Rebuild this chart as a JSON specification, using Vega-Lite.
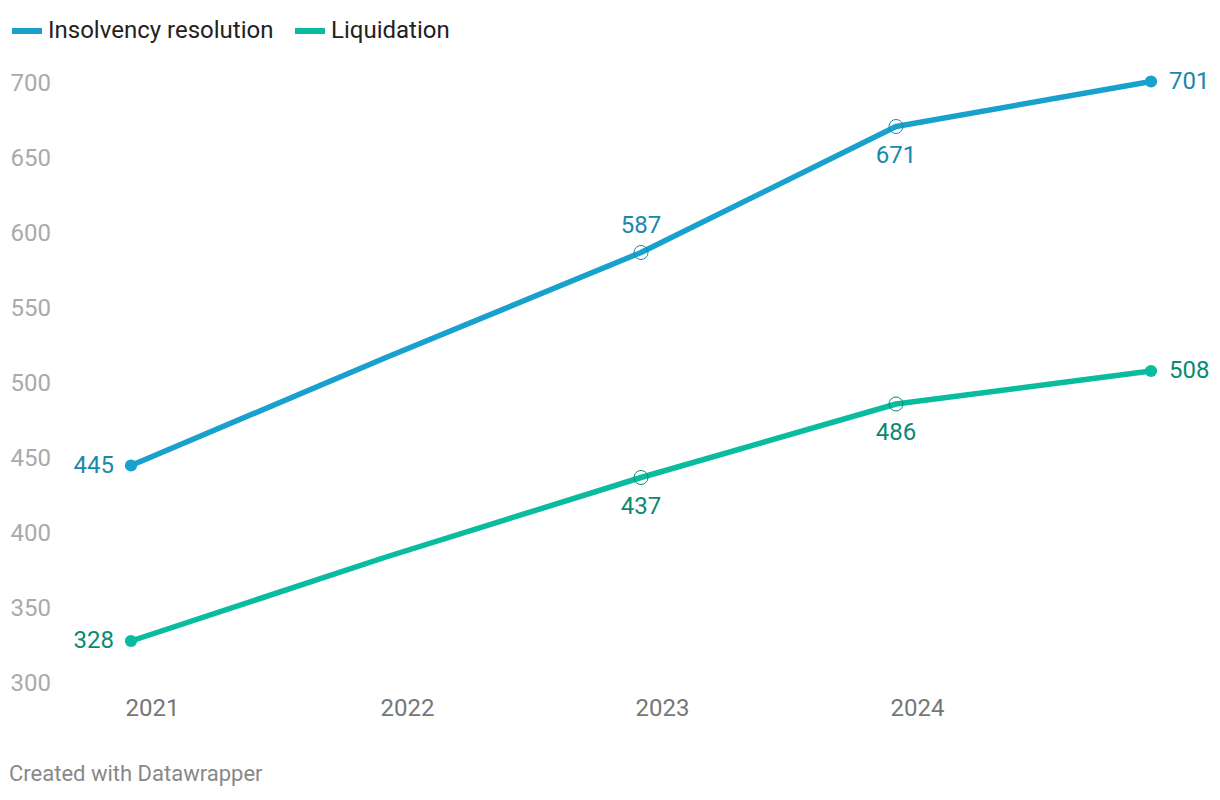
{
  "$schema": "https://vega.github.io/schema/vega-lite/v6.json",
  "width": 1020,
  "height": 600,
  "autosize": {"type": "none"},
  "padding": {"left": 131, "top": 83, "right": 69, "bottom": 117},
  "background": "white",
  "config": {
    "view": {"stroke": null},
    "font": "Roboto"
  },
  "title": {
    "text": "Created with Datawrapper",
    "orient": "bottom",
    "anchor": "start",
    "frame": "bounds",
    "offset": 44,
    "fontSize": 22,
    "fontWeight": "normal",
    "color": "#888888",
    "font": "Roboto"
  },
  "data": {
    "values": [
      {"year": 2021, "series": "Insolvency resolution", "value": 445},
      {"year": 2022, "series": "Insolvency resolution", "value": 517},
      {"year": 2023, "series": "Insolvency resolution", "value": 587},
      {"year": 2024, "series": "Insolvency resolution", "value": 671},
      {"year": 2025, "series": "Insolvency resolution", "value": 701},
      {"year": 2021, "series": "Liquidation", "value": 328},
      {"year": 2022, "series": "Liquidation", "value": 384},
      {"year": 2023, "series": "Liquidation", "value": 437},
      {"year": 2024, "series": "Liquidation", "value": 486},
      {"year": 2025, "series": "Liquidation", "value": 508}
    ]
  },
  "encoding": {
    "x": {
      "field": "year",
      "type": "quantitative",
      "scale": {"domain": [2021, 2025], "nice": false, "zero": false},
      "axis": {
        "title": null,
        "values": [2021, 2022, 2023, 2024],
        "format": "d",
        "grid": false,
        "domain": false,
        "ticks": false,
        "tickSize": 0,
        "labelPadding": 13,
        "labelAlign": "left",
        "labelOffset": -6,
        "labelFontSize": 24,
        "labelColor": "#777777",
        "labelFont": "Roboto"
      }
    },
    "y": {
      "field": "value",
      "type": "quantitative",
      "scale": {"domain": [300, 700], "nice": false, "zero": false},
      "axis": {
        "title": null,
        "values": [300, 350, 400, 450, 500, 550, 600, 650, 700],
        "grid": false,
        "domain": false,
        "ticks": false,
        "tickSize": 0,
        "labelAlign": "left",
        "labelBaseline": "middle",
        "labelPadding": 121,
        "labelFontSize": 24,
        "labelColor": "#aaaaaa",
        "labelFont": "Roboto"
      }
    }
  },
  "layer": [
    {
      "mark": {"type": "line", "strokeWidth": 5.5, "strokeCap": "round", "strokeJoin": "round"},
      "encoding": {
        "color": {
          "field": "series",
          "type": "nominal",
          "scale": {"domain": ["Insolvency resolution", "Liquidation"], "range": ["#18a1cd", "#09bb9f"]},
          "legend": {
            "title": null,
            "orient": "none",
            "legendX": -122,
            "legendY": -70,
            "direction": "horizontal",
            "symbolType": "stroke",
            "symbolStrokeWidth": 6,
            "symbolSize": 900,
            "labelFontSize": 24,
            "labelColor": "#222222",
            "labelFont": "Roboto",
            "labelOffset": 3,
            "columnPadding": 9,
            "labelLimit": 400
          }
        }
      }
    },
    {
      "transform": [{"filter": "datum.year == 2021 || datum.year == 2025"}],
      "mark": {"type": "point", "filled": true, "size": 150, "opacity": 1, "shape": "circle"},
      "encoding": {
        "color": {"field": "series", "type": "nominal", "legend": null}
      }
    },
    {
      "transform": [{"filter": "datum.year == 2023 || datum.year == 2024"}],
      "mark": {"type": "point", "filled": false, "size": 196, "strokeWidth": 1, "opacity": 1, "shape": "circle", "fill": null},
      "encoding": {
        "stroke": {
          "field": "series",
          "type": "nominal",
          "scale": {"domain": ["Insolvency resolution", "Liquidation"], "range": ["#1a87ad", "#0a8a70"]},
          "legend": null
        }
      }
    },
    {
      "transform": [{"filter": "datum.year == 2021"}],
      "mark": {"type": "text", "align": "right", "baseline": "middle", "dx": -17, "fontSize": 24, "font": "Roboto"},
      "encoding": {
        "text": {"field": "value", "type": "quantitative", "format": "d"},
        "fill": {
          "field": "series",
          "type": "nominal",
          "scale": {"domain": ["Insolvency resolution", "Liquidation"], "range": ["#1a87ad", "#0a8a70"]},
          "legend": null
        }
      }
    },
    {
      "transform": [{"filter": "datum.year == 2025"}],
      "mark": {"type": "text", "align": "left", "baseline": "middle", "dx": 18, "fontSize": 24, "font": "Roboto"},
      "encoding": {
        "text": {"field": "value", "type": "quantitative", "format": "d"},
        "fill": {"field": "series", "type": "nominal", "legend": null}
      }
    },
    {
      "transform": [{"filter": "datum.year == 2023 && datum.series == 'Insolvency resolution'"}],
      "mark": {"type": "text", "align": "center", "baseline": "middle", "dy": -27, "fontSize": 24, "font": "Roboto"},
      "encoding": {
        "text": {"field": "value", "type": "quantitative", "format": "d"},
        "fill": {"field": "series", "type": "nominal", "legend": null}
      }
    },
    {
      "transform": [{"filter": "(datum.year == 2023 && datum.series == 'Liquidation') || datum.year == 2024"}],
      "mark": {"type": "text", "align": "center", "baseline": "middle", "dy": 29, "fontSize": 24, "font": "Roboto"},
      "encoding": {
        "text": {"field": "value", "type": "quantitative", "format": "d"},
        "fill": {"field": "series", "type": "nominal", "legend": null}
      }
    }
  ]
}
